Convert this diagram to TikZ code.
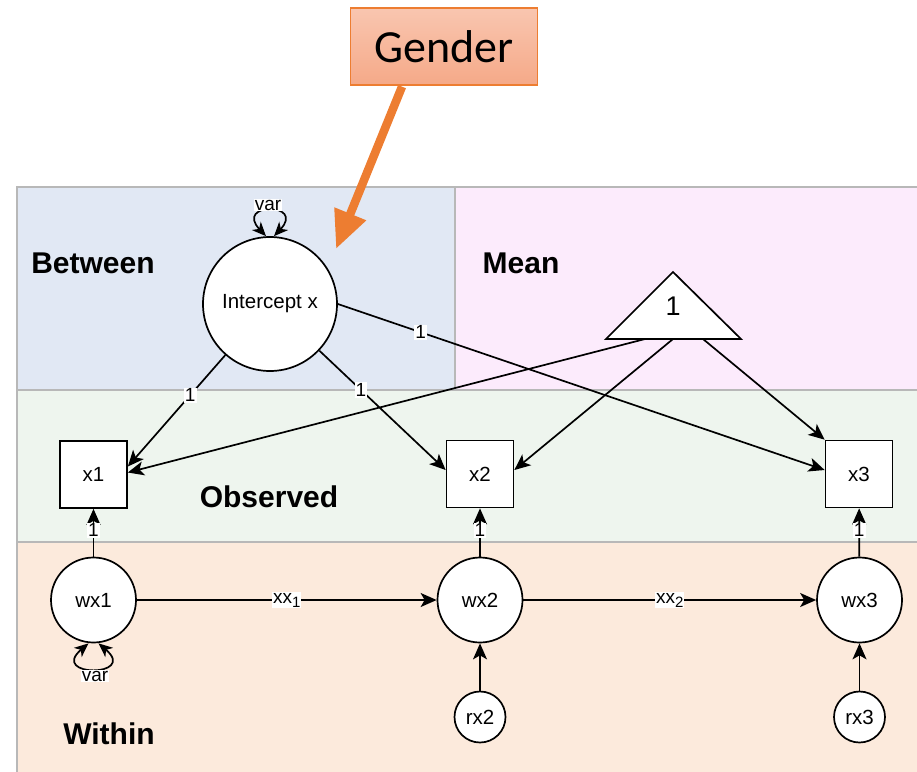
\documentclass[tikz,border=0pt]{standalone}
\usepackage{fontspec}
\setmainfont{Liberation Sans}
\newfontfamily\calibrifont{Carlito}
\usetikzlibrary{arrows.meta,calc}

\definecolor{betweenfill}{HTML}{E1E8F4}
\definecolor{meanfill}{HTML}{FCEBFC}
\definecolor{observedfill}{HTML}{EEF5EE}
\definecolor{withinfill}{HTML}{FCEADC}
\definecolor{regionline}{HTML}{B8B8B8}
\definecolor{genderborder}{HTML}{ED7D31}
\definecolor{gendertop}{HTML}{F9C6B0}
\definecolor{genderbottom}{HTML}{F5A988}
\definecolor{genderarrow}{HTML}{ED7D31}

\tikzset{
  region/.style={draw=regionline, line width=1.4pt},
  latent/.style={circle, draw, line width=1.7pt, fill=white, inner sep=0pt,
                 font=\fontsize{20.5}{20.5}\selectfont},
  observed/.style={rectangle, draw, line width=1.7pt, fill=white, inner sep=0pt,
                   minimum size=67pt, font=\fontsize{20.5}{20.5}\selectfont},
  link/.style={line width=1.7pt, -{Stealth[length=16pt,width=14pt,inset=4pt]}},
  varloop/.style={line width=1.7pt,
                  {Stealth[length=14pt,width=12pt,inset=4pt]}-{Stealth[length=14pt,width=12pt,inset=4pt]}},
  lbl/.style={fill=white, inner sep=1pt, font=\fontsize{19}{19}\selectfont},
  regionlabel/.style={font=\bfseries\fontsize{30}{30}\selectfont},
}
\newcommand{\subidx}[1]{\raisebox{-4pt}{\fontsize{15}{15}\selectfont #1}}

\begin{document}
\begin{tikzpicture}[x=1pt,y=-1pt]
\useasboundingbox (0,0) rectangle (917,771);

% level regions
\fill[betweenfill] (17,187) rectangle (455,390);
\fill[meanfill] (455,187) rectangle (930,390);
\fill[observedfill] (17,390) rectangle (930,542);
\fill[withinfill] (17,542) rectangle (930,790);
\draw[region] (17,187) rectangle (455,390);
\draw[region] (455,187) rectangle (930,390);
\draw[region] (17,390) rectangle (930,542);
\draw[region] (17,542) rectangle (930,790);

\node[regionlabel] (lbetween) at (93,263) {Between};
\node[regionlabel] (lmean) at (521,263) {Mean};
\node[regionlabel] (lobserved) at (269,497) {Observed};
\node[regionlabel] (lwithin) at (109,734) {Within};

% between-level intercept
\node[latent, minimum size=134pt] (ic) at (270,304) {Intercept x};

% mean structure triangle
\coordinate (tA) at (673,272);
\coordinate (tL) at (606,339);
\coordinate (tR) at (741,339);
\draw[line width=1.7pt, fill=white] (tA) -- (tL) -- (tR) -- cycle;
\node[font=\fontsize{27}{27}\selectfont] (tone) at (673,306) {1};
\coordinate (t1) at (645,339);
\coordinate (t2) at (673,339);
\coordinate (t3) at (703,339);

% observed indicators
\node[observed] (x1) at (93.5,474.5) {x1};
\node[observed] (x2) at (480,474) {x2};
\node[observed] (x3) at (859,474) {x3};

% within-level factors and residuals
\node[latent, minimum size=85pt] (wx1) at (93.5,600) {wx1};
\node[latent, minimum size=85pt] (wx2) at (480,600) {wx2};
\node[latent, minimum size=85pt] (wx3) at (859.5,600) {wx3};
\node[latent, minimum size=51pt] (rx2) at (480,717) {rx2};
\node[latent, minimum size=51pt] (rx3) at (859.5,717) {rx3};

% loadings of the intercept
\draw[link] (ic) -- node[lbl, pos=0.36] {1} ([yshift=8pt]x1.east);
\draw[link] (ic) -- node[lbl, pos=0.33] {1} ([yshift=4pt]x2.west);
\draw[link] (ic.east) -- node[lbl, pos=0.17] {1} ([yshift=4pt]x3.west);

% means
\draw[link] (t1) -- ([yshift=2pt]x1.east);
\draw[link] (t2) -- ([yshift=4pt]x2.east);
\draw[link] (t3) -- (x3.north west);

% within loadings
\draw[link] (wx1) -- node[lbl, pos=0.55] {1} (x1);
\draw[link] (wx2) -- node[lbl, pos=0.55] {1} (x2);
\draw[link] (wx3) -- node[lbl, pos=0.55] {1} (x3);

% autoregressive paths
\draw[link] (wx1) -- node[lbl] {xx\subidx{1}} (wx2);
\draw[link] (wx2) -- node[lbl] {xx\subidx{2}} (wx3);

% residuals
\draw[link] (rx2) -- (wx2);
\draw[link] (rx3) -- (wx3);

% variances
\draw[varloop] ([xshift=-4pt]ic.north) .. controls +(-32,-34) and +(32,-34) .. ([xshift=4pt]ic.north);
\node[lbl] (icvar) at (268,205) {var};
\draw[varloop] ([xshift=-5pt]wx1.south) .. controls +(-40,34) and +(40,34) .. ([xshift=5pt]wx1.south);
\node[lbl] (wxvar) at (95,676) {var};

% covariate
\node[draw=genderborder, line width=1.3pt, top color=gendertop, bottom color=genderbottom,
      minimum width=187pt, minimum height=77pt, inner sep=0pt,
      font=\calibrifont\fontsize{46}{46}\selectfont] (gender) at (444,46.5) {Gender};
\coordinate (gtip) at (336,249);
\draw[line width=8.5pt, color=genderarrow, -{Triangle[length=38pt,width=32pt]}]
  ([xshift=-42pt,yshift=-1pt]gender.south) -- (gtip);
\end{tikzpicture}
\end{document}
